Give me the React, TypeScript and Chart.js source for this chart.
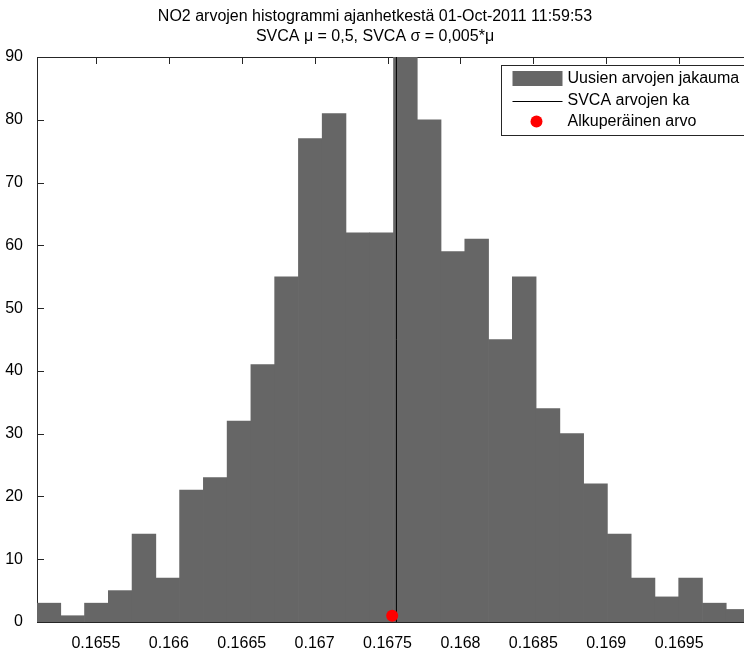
import React, { useEffect, useRef } from 'react';
import { Chart, registerables } from 'chart.js';

Chart.register(...registerables);

// ---- data ----
const binCenters = [
  0.1651775, 0.1653405, 0.1655035, 0.1656665, 0.1658295, 0.1659925,
  0.1661555, 0.1663185, 0.1664815, 0.1666445, 0.1668075, 0.1669705,
  0.1671335, 0.1672965, 0.1674595, 0.1676225, 0.1677855, 0.1679485,
  0.1681115, 0.1682745, 0.1684375, 0.1686005, 0.1687635, 0.1689265,
  0.1690895, 0.1692525, 0.1694155, 0.1695785, 0.1697415, 0.1699045,
];
const counts = [
  3, 1, 3, 5, 14, 7, 21, 23, 32, 41, 55, 77, 81, 62, 62,
  90, 80, 59, 61, 45, 55, 34, 30, 22, 14, 7, 4, 7, 3, 2,
];
const meanValue = 0.167561;
const meanLineY = [0, 90];
const originalX = [0.167532];
const originalY = [1];
const xRange = [0.165096, 0.169986];
const yRange = [0, 90];
const xTickValues = [0.1655, 0.166, 0.1665, 0.167, 0.1675, 0.168, 0.1685, 0.169, 0.1695];
const xTickLabels = ['0.1655', '0.166', '0.1665', '0.167', '0.1675', '0.168', '0.1685', '0.169', '0.1695'];
const yTickValues = [0, 10, 20, 30, 40, 50, 60, 70, 80, 90];
const yTickLabels = ['0', '10', '20', '30', '40', '50', '60', '70', '80', '90'];
const titleLines = [
  'NO2 arvojen histogrammi ajanhetkestä 01-Oct-2011 11:59:53',
  'SVCA μ = 0,5, SVCA σ = 0,005*μ',
];
const legendLabels = ['Uusien arvojen jakauma', 'SVCA arvojen ka', 'Alkuperäinen arvo'];

const FONT = '"Liberation Sans", Arial, Helvetica, sans-serif';
const BAR_COLOR = '#666666';
const AXIS_COLOR = '#262626';

const axesPlugin = {
  id: 'matlabAxes',
  beforeDatasetsDraw(chart: any) {
    const { ctx, chartArea, scales } = chart;
    const { left, right, top, bottom } = chartArea;
    ctx.save();
    ctx.strokeStyle = AXIS_COLOR;
    ctx.lineWidth = 1;
    ctx.beginPath();
    ctx.moveTo(left, Math.round(top) + 0.5);
    ctx.lineTo(right, Math.round(top) + 0.5);
    const tl = 7;
    for (const v of yTickValues) {
      const y = Math.round(scales.y.getPixelForValue(v)) + 0.5;
      ctx.moveTo(left, y);
      ctx.lineTo(left + tl, y);
    }
    for (const v of xTickValues) {
      const x = Math.round(scales.x.getPixelForValue(v)) + 0.5;
      ctx.moveTo(x, top);
      ctx.lineTo(x, top + tl);
      ctx.moveTo(x, bottom);
      ctx.lineTo(x, bottom - tl);
    }
    ctx.stroke();
    ctx.restore();
  },
  afterDraw(chart: any) {
    const { ctx, chartArea } = chart;
    const boxLeft = Math.round(chartArea.right - 249) + 0.5;
    const boxTop = Math.round(chartArea.top + 8) + 0.5;
    const boxRight = chartArea.right - 3;
    const boxH = 70;
    ctx.save();
    ctx.fillStyle = '#ffffff';
    ctx.fillRect(boxLeft, boxTop, boxRight - boxLeft, boxH);
    ctx.strokeStyle = AXIS_COLOR;
    ctx.lineWidth = 1;
    ctx.strokeRect(boxLeft, boxTop, boxRight - boxLeft, boxH);
    const rows = [13, 35.5, 56];
    // item 1: patch
    ctx.fillStyle = BAR_COLOR;
    ctx.fillRect(boxLeft + 11, boxTop + rows[0] - 7.5, 50, 15);
    // item 2: line
    ctx.strokeStyle = '#000000';
    ctx.beginPath();
    ctx.moveTo(boxLeft + 11, Math.round(boxTop + rows[1]) + 0.5);
    ctx.lineTo(boxLeft + 61, Math.round(boxTop + rows[1]) + 0.5);
    ctx.stroke();
    // item 3: marker
    ctx.fillStyle = '#ff0000';
    ctx.beginPath();
    ctx.arc(boxLeft + 35, boxTop + rows[2], 6, 0, Math.PI * 2);
    ctx.fill();
    ctx.fillStyle = '#000000';
    ctx.font = `16px ${FONT}`;
    ctx.textBaseline = 'middle';
    ctx.textAlign = 'left';
    legendLabels.forEach((t, i) => {
      ctx.fillText(t, boxLeft + 66, boxTop + rows[i]);
    });
    ctx.restore();
  },
};

export default function App() {
  const canvasRef = useRef<HTMLCanvasElement | null>(null);

  useEffect(() => {
    if (!canvasRef.current) return;
    const chart = new Chart(canvasRef.current, {
      type: 'bar',
      data: {
        datasets: [
          {
            type: 'scatter' as any,
            label: legendLabels[2],
            data: originalX.map((x, i) => ({ x, y: originalY[i] })),
            backgroundColor: '#ff0000',
            borderColor: '#ff0000',
            pointRadius: 6,
            pointBorderWidth: 0,
            order: 1,
          } as any,
          {
            type: 'line' as any,
            label: legendLabels[1],
            data: meanLineY.map((y) => ({ x: meanValue, y })),
            borderColor: '#000000',
            borderWidth: 1,
            pointRadius: 0,
            fill: false,
            order: 2,
          } as any,
          {
            type: 'bar',
            label: legendLabels[0],
            data: binCenters.map((x, i) => ({ x, y: counts[i] })),
            backgroundColor: BAR_COLOR,
            borderWidth: 0,
            barPercentage: 1,
            categoryPercentage: 1,
            order: 3,
          } as any,
        ],
      },
      options: {
        animation: false,
        responsive: false,
        maintainAspectRatio: false,
        devicePixelRatio: 1,
        layout: { padding: { left: 0, right: 10, top: 0, bottom: 0 } },
        plugins: {
          legend: { display: false },
          tooltip: { enabled: false },
          title: {
            display: true,
            text: titleLines,
            color: '#000000',
            font: { family: FONT, size: 16, weight: 'normal', lineHeight: 1.25 },
            padding: { top: 7, bottom: 10 },
          },
        },
        scales: {
          x: {
            type: 'linear',
            min: xRange[0],
            max: xRange[1],
            offset: false,
            grid: { display: false },
            border: { display: true, color: AXIS_COLOR, width: 1 },
            afterBuildTicks: (s: any) => {
              s.ticks = xTickValues.map((value) => ({ value }));
            },
            afterFit: (s: any) => {
              s.height = 27;
            },
            ticks: {
              autoSkip: false,
              maxRotation: 0,
              padding: 4,
              color: '#000000',
              font: { family: FONT, size: 16 },
              callback: (v: any) => xTickLabels[xTickValues.indexOf(Number(v))] ?? '',
            },
          },
          y: {
            type: 'linear',
            min: yRange[0],
            max: yRange[1],
            grid: { display: false },
            border: { display: true, color: AXIS_COLOR, width: 1 },
            afterBuildTicks: (s: any) => {
              s.ticks = yTickValues.map((value) => ({ value }));
            },
            afterFit: (s: any) => {
              s.width = 37;
            },
            ticks: {
              autoSkip: false,
              padding: 6,
              color: '#000000',
              font: { family: FONT, size: 16 },
              callback: (v: any) => yTickLabels[yTickValues.indexOf(Number(v))] ?? '',
            },
          },
        },
      } as any,
      plugins: [axesPlugin],
    });
    return () => chart.destroy();
  }, []);

  return (
    <div
      style={{
        position: 'fixed',
        left: 0,
        top: 0,
        width: 744,
        height: 649,
        overflow: 'hidden',
        background: '#ffffff',
      }}
    >
      <canvas ref={canvasRef} width={760} height={649} style={{ width: 760, height: 649, display: 'block' }} />
    </div>
  );
}
